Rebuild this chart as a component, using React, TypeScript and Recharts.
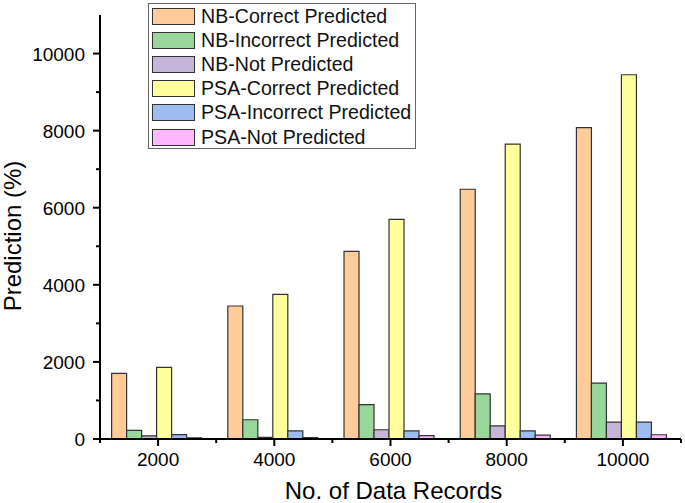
import React from 'react';
import { BarChart, Bar, XAxis, YAxis, Legend } from 'recharts';

const categories = ['2000', '4000', '6000', '8000', '10000'];
const nbCorrect = [1700, 3450, 4870, 6480, 8080];
const nbIncorrect = [225, 500, 890, 1170, 1450];
const nbNot = [80, 40, 240, 340, 440];
const psaCorrect = [1860, 3750, 5700, 7650, 9450];
const psaIncorrect = [115, 210, 210, 210, 440];
const psaNot = [30, 35, 90, 100, 110];
const yTicks = [0, 1000, 2000, 3000, 4000, 5000, 6000, 7000, 8000, 9000, 10000];

const seriesNames = [
  'NB-Correct Predicted',
  'NB-Incorrect Predicted',
  'NB-Not Predicted',
  'PSA-Correct Predicted',
  'PSA-Incorrect Predicted',
  'PSA-Not Predicted',
];
const seriesColors = ['#FFCC99', '#99D699', '#C6B5D8', '#FFFF9E', '#9DBDF2', '#FFB8FF'];
const seriesValues = [nbCorrect, nbIncorrect, nbNot, psaCorrect, psaIncorrect, psaNot];
const keys = ['s0', 's1', 's2', 's3', 's4', 's5'];

const data = categories.map((c, i) => {
  const row: Record<string, any> = { records: c };
  seriesValues.forEach((vals, k) => {
    row[keys[k]] = vals[i];
  });
  return row;
});

const FONT = '"Liberation Sans", Arial, sans-serif';
const BAND = 116.2;

const XTick = (props: any) => {
  const { x, y, payload, index } = props;
  return (
    <g>
      <line x1={x} y1={y} x2={x} y2={y + 7} stroke="#000" strokeWidth={2} />
      <line x1={x + BAND / 2} y1={y} x2={x + BAND / 2} y2={y + 4} stroke="#000" strokeWidth={2} />
      {index === 0 && (
        <line x1={x - BAND / 2} y1={y} x2={x - BAND / 2} y2={y + 4} stroke="#000" strokeWidth={2} />
      )}
      <text x={x} y={y + 27} textAnchor="middle" fontSize={19} fontFamily={FONT} fill="#000">
        {payload.value}
      </text>
    </g>
  );
};

const YTick = (props: any) => {
  const { x, y, payload } = props;
  const major = payload.value % 2000 === 0;
  return (
    <g>
      <line x1={x - (major ? 7 : 4)} y1={y} x2={x} y2={y} stroke="#000" strokeWidth={2} />
      {major && (
        <text x={x - 15} y={y + 7} textAnchor="end" fontSize={19} fontFamily={FONT} fill="#000">
          {payload.value}
        </text>
      )}
    </g>
  );
};

const XLabel = (props: any) => {
  const vb = props.viewBox || { x: 100, width: 581, y: 439 };
  return (
    <text
      x={vb.x + vb.width / 2 + 3}
      y={499}
      textAnchor="middle"
      fontSize={24}
      fontFamily={FONT}
      fill="#000"
    >
      No. of Data Records
    </text>
  );
};

const YLabel = () => (
  <text
    x={21}
    y={236}
    transform="rotate(-90 21 236)"
    textAnchor="middle"
    fontSize={24}
    fontFamily={FONT}
    fill="#000"
  >
    Prediction (%)
  </text>
);

const LegendBox = () => (
  <div
    style={{
      border: '1px solid #666',
      background: '#fff',
      width: 268,
      height: 146,
      boxSizing: 'border-box',
      fontFamily: FONT,
    }}
  >
    {seriesNames.map((n, i) => (
      <div key={n} style={{ display: 'flex', alignItems: 'center', height: 24.2, paddingLeft: 3 }}>
        <div
          style={{
            width: 43,
            height: 17,
            background: seriesColors[i],
            border: '1.5px solid #333',
            boxSizing: 'border-box',
          }}
        />
        <span style={{ marginLeft: 6, fontSize: 19.6, color: '#111', whiteSpace: 'nowrap' }}>{n}</span>
      </div>
    ))}
  </div>
);

export default function App() {
  return (
    <div style={{ position: 'absolute', left: 0, top: 0, width: 685, height: 503, background: '#fff' }}>
      <BarChart
        width={685}
        height={503}
        data={data}
        margin={{ top: 15, right: 4, left: 0, bottom: 0 }}
        barCategoryGap="10%"
        barGap={0}
      >
        <XAxis
          dataKey="records"
          height={64}
          axisLine={{ stroke: '#000', strokeWidth: 2 }}
          tickLine={false}
          tickSize={0}
          tickMargin={0}
          tick={<XTick />}
          interval={0}
          label={<XLabel />}
        />
        <YAxis
          width={100}
          domain={[0, 11000]}
          ticks={yTicks}
          interval={0}
          allowDataOverflow
          axisLine={{ stroke: '#000', strokeWidth: 2 }}
          tickLine={false}
          tickSize={0}
          tickMargin={0}
          tick={<YTick />}
          label={<YLabel />}
        />
        <Legend
          layout="vertical"
          align="center"
          verticalAlign="middle"
          content={<LegendBox />}
          wrapperStyle={{ position: 'absolute', left: 148, top: 3, width: 268 }}
        />
        {keys.map((k, i) => (
          <Bar
            key={k}
            dataKey={k}
            name={seriesNames[i]}
            fill={seriesColors[i]}
            stroke="#333"
            strokeWidth={1.2}
            isAnimationActive={false}
          />
        ))}
      </BarChart>
    </div>
  );
}
